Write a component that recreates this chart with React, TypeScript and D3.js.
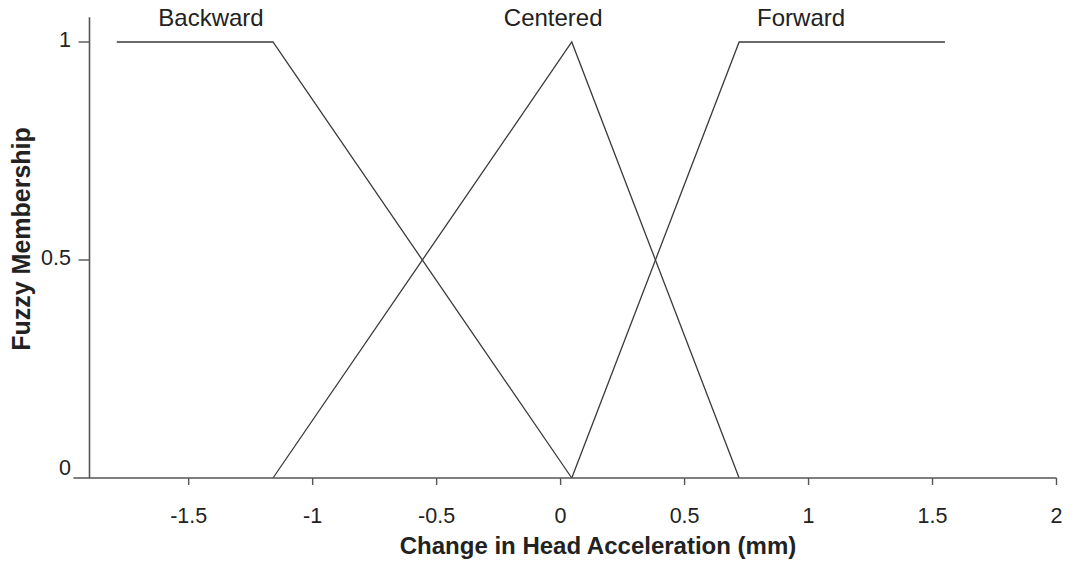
import React from "react";
import * as d3 from "d3";

const categories = ["Backward", "Centered", "Forward"];
const seriesX = [
  [-1.79, -1.16, 0.045],
  [-1.16, 0.045, 0.72],
  [0.045, 0.72, 1.55],
];
const seriesY = [
  [1, 1, 0],
  [0, 1, 0],
  [0, 1, 1],
];
const labelAnchorX = [-1.41, -0.03, 0.97];
const xTicks = [-1.5, -1, -0.5, 0, 0.5, 1, 1.5, 2];
const yTicks = [0, 0.5, 1];
const xTitle = "Change in Head Acceleration (mm)";
const yTitle = "Fuzzy Membership";

const W = 1077;
const H = 566;
const FONT = "'Liberation Sans', Arial, sans-serif";

export default function App() {
  const x = d3.scaleLinear().domain([-1.9, 2]).range([89.5, 1056.5]);
  const y = d3.scaleLinear().domain([0, 1]).range([478, 42]);
  const axisX0 = x(-1.9) - 16;
  const axisTop = y(1.057);
  const line = d3
    .line<[number, number]>()
    .x((d) => x(d[0]))
    .y((d) => y(d[1]));
  const fmt = (v: number) => String(v);

  return (
    <svg
      width={W}
      height={H}
      style={{ position: "absolute", left: 0, top: 0, background: "#fff" }}
      fontFamily={FONT}
    >
      {/* series */}
      {categories.map((c, i) => (
        <path
          key={c}
          d={line(seriesX[i].map((v, j) => [v, seriesY[i][j]]) as [number, number][]) || ""}
          fill="none"
          stroke="#3a3a3a"
          strokeWidth={1.3}
        />
      ))}
      {categories.map((c, i) => (
        <text key={c} x={x(labelAnchorX[i])} y={26} fontSize={24} textAnchor="middle" fill="#222">
          {c}
        </text>
      ))}

      {/* x axis */}
      <line x1={axisX0} x2={x(2)} y1={y(0)} y2={y(0)} stroke="#555" strokeWidth={1.6} />
      {xTicks.map((t) => (
        <g key={t}>
          <line x1={x(t)} x2={x(t)} y1={y(0)} y2={y(0) + 7} stroke="#555" strokeWidth={1.4} />
          <text x={x(t)} y={523} fontSize={21.5} textAnchor="middle" fill="#222">
            {fmt(t)}
          </text>
        </g>
      ))}

      {/* y axis */}
      <line x1={x(-1.9)} x2={x(-1.9)} y1={axisTop} y2={y(0)} stroke="#555" strokeWidth={1.6} />
      {yTicks.map((t) => (
        <g key={t}>
          {t !== 0 && (
            <line x1={x(-1.9) - 11} x2={x(-1.9)} y1={y(t)} y2={y(t)} stroke="#555" strokeWidth={1.4} />
          )}
          <text
            x={71}
            y={t === 0 ? 475 : y(t) + 5}
            fontSize={21.5}
            textAnchor="end"
            fill="#222"
          >
            {fmt(t)}
          </text>
        </g>
      ))}

      {/* titles */}
      <text x={598} y={554} fontSize={24} fontWeight="bold" textAnchor="middle" fill="#222">
        {xTitle}
      </text>
      <text
        transform={`translate(30,239) rotate(-90)`}
        fontSize={25}
        fontWeight="bold"
        textAnchor="middle"
        fill="#222"
      >
        {yTitle}
      </text>
    </svg>
  );
}
